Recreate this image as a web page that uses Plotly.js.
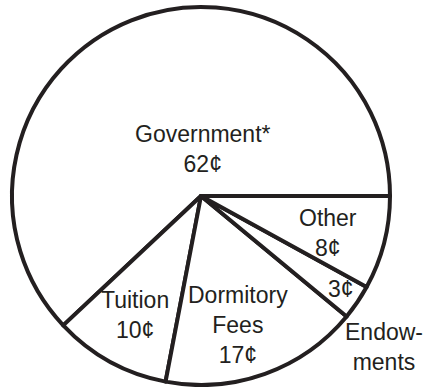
<!DOCTYPE html>
<html>
<head>
<meta charset="utf-8">
<script src="https://cdn.plot.ly/plotly-3.0.1.min.js"></script>
<style>
html,body{margin:0;padding:0;overflow:hidden;background:#fff;}
#chart{width:426px;height:387px;}
</style>
</head>
<body>
<div id="chart"></div>
<script>
// Data
const categories = ["Government*", "Tuition", "Dormitory Fees", "Endowments", "Other"];
const values = [62, 10, 17, 3, 8];
const valueLabels = values.map(v => v + "\u00a2");
const nameLines = ["Government*", "Tuition", "Dormitory<br>Fees", "", "Other"];
const outsideNote = "Endow-<br>ments";

const W = 426, H = 387;
const ink = "#231f20";

// label placement (pixels from top-left)
const labelPos = [[203, 149], [135, 314.5], [238, 324.5], [341, 289], [328, 233]];
const notePos = [384, 347];

const annotations = categories.map((c, i) => ({
  xref: "paper", yref: "paper",
  x: labelPos[i][0] / W, y: 1 - labelPos[i][1] / H,
  xanchor: "center", yanchor: "middle",
  text: (nameLines[i] ? nameLines[i] + "<br>" : "") + valueLabels[i],
  showarrow: false,
  font: {family: "Liberation Sans, Arial, sans-serif", size: 23, color: ink}
}));
annotations.push({
  xref: "paper", yref: "paper",
  x: notePos[0] / W, y: 1 - notePos[1] / H,
  xanchor: "center", yanchor: "middle",
  text: outsideNote, showarrow: false,
  font: {family: "Liberation Sans, Arial, sans-serif", size: 23, color: ink}
});

Plotly.newPlot("chart", [{
  type: "pie",
  labels: categories,
  values: values,
  sort: false,
  direction: "counterclockwise",
  rotation: -133.2,
  textinfo: "none",
  hoverinfo: "none",
  showlegend: false,
  marker: {colors: values.map(() => "#ffffff"), line: {color: ink, width: 4}},
  domain: {x: [12 / W, 390 / W], y: [2 / H, 380 / H]}
}], {
  width: W, height: H,
  margin: {l: 0, r: 0, t: 0, b: 0},
  paper_bgcolor: "#fff",
  annotations: annotations
}, {staticPlot: true, displayModeBar: false});
</script>
</body>
</html>
